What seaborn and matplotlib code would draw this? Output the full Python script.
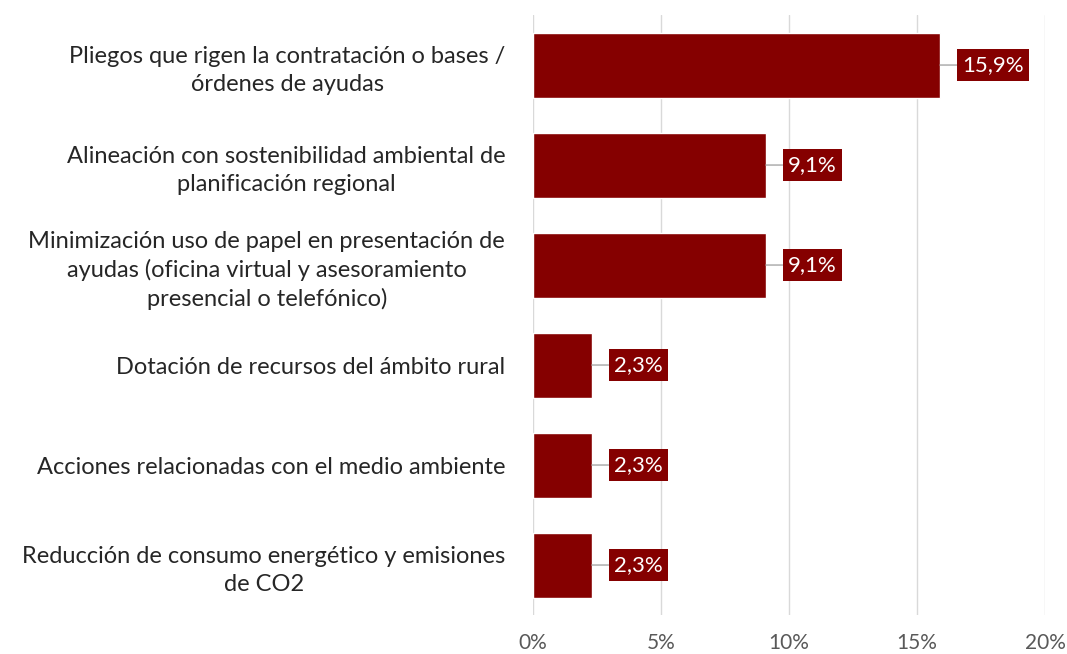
import matplotlib
matplotlib.use('Agg')
import matplotlib.pyplot as plt
import seaborn as sns
import pandas as pd
import matplotlib.ticker as mticker

# chart data
categories = [
    'Pliegos que rigen la contratación o bases /\nórdenes de ayudas',
    'Alineación con sostenibilidad ambiental de\nplanificación regional',
    'Minimización uso de papel en presentación de\nayudas (oficina virtual y asesoramiento\npresencial o telefónico)',
    'Dotación de recursos del ámbito rural',
    'Acciones relacionadas con el medio ambiente',
    'Reducción de consumo energético y emisiones\nde CO2',
]
values = [15.9, 9.1, 9.1, 2.3, 2.3, 2.3]
x_ticks = [0, 5, 10, 15, 20]

bar_color = '#850000'

df = pd.DataFrame({'categoria': categories, 'valor': values})

sns.set_style('white')
plt.rcParams['font.family'] = ['Lato', 'DejaVu Sans']

fig = plt.figure(figsize=(10.67, 6.54), dpi=100)
ax = fig.add_axes([0.4995, 0.0596, 0.4799, 0.9174])

sns.barplot(data=df, x='valor', y='categoria', orient='h', color=bar_color,
            saturation=1, width=0.65, ax=ax, zorder=2)

ax.set_xlim(0, 20)
ax.set_ylim(5.5, -0.5)
ax.set_xticks(x_ticks)
ax.xaxis.set_major_formatter(mticker.FuncFormatter(lambda v, p: f'{int(v)}%'))
ax.grid(axis='x', color='#d9d9d9', linewidth=1, zorder=0)
ax.set_axisbelow(True)
for s in ax.spines.values():
    s.set_visible(False)

ax.set_xlabel('')
ax.set_ylabel('')
ax.tick_params(axis='x', length=0, pad=13, labelsize=15, labelcolor='#595959')
ax.tick_params(axis='y', length=0, pad=20, labelsize=17, labelcolor='#262626')
for lbl in ax.get_yticklabels():
    lbl.set_multialignment('center')
    lbl.set_linespacing(1.4)

# data labels in boxes with leader lines
for i, v in enumerate(values):
    ax.annotate(f'{v:.1f}%'.replace('.', ','), xy=(v, i), xytext=(16, 0),
                textcoords='offset points', ha='left', va='center',
                fontsize=16, color='white',
                bbox=dict(boxstyle='square,pad=0.25', fc=bar_color, ec='none'),
                arrowprops=dict(arrowstyle='-', color='#a6a6a6', lw=1,
                                shrinkA=0, shrinkB=0))

fig.savefig('out.png', dpi=100)
